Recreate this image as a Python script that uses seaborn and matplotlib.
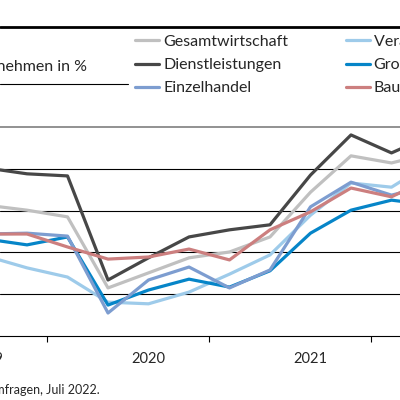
import numpy as np
import pandas as pd
import matplotlib
matplotlib.use("Agg")
import matplotlib.pyplot as plt
from matplotlib.lines import Line2D
import seaborn as sns

# quarter index: 0 = Q4 2019, 1 = Q1 2020, ...
quarters = [-1, 0, 1, 2, 3, 4, 5, 6, 7, 8, 9, 10]

gesamt   = [31.3, 30.1, 28.5, 11.5, 15.1, 18.7, 20.1, 23.7, 34.4, 43.1, 41.4, 43.8]
verarb   = [19.1, 16.3, 14.1, 8.1, 7.7, 10.5, 14.8, 19.4, 28.9, 36.6, 35.6, 41.6]
dienst   = [40.2, 38.8, 38.3, 13.4, 18.7, 23.7, 25.4, 26.6, 38.5, 48.1, 43.8, 48.1]
gross    = [23.2, 21.8, 23.7, 7.4, 11.0, 13.6, 11.7, 15.6, 24.6, 30.1, 32.5, 31.3]
einzel   = [24.4, 24.6, 23.9, 5.5, 13.4, 16.5, 11.5, 15.8, 30.9, 36.8, 33.7, 36.1]
bau      = [24.4, 24.4, 21.3, 18.4, 18.9, 20.8, 18.2, 25.4, 29.7, 35.4, 33.3, 38.0]

series_names = ["Gesamtwirtschaft", "Dienstleistungen", "Einzelhandel",
                "Verarbeitendes Gewerbe", "Großhandel", "Bauhauptgewerbe"]
series_vals = [gesamt, dienst, einzel, verarb, gross, bau]
colors = ["#c0c0c0", "#474747", "#7d9dd0", "#9ecbea", "#0685c8", "#cc7f7f"]

year_labels = ["2019", "2020", "2021"]
year_pos = [-1, 3, 7]
year_bounds = [0.5, 4.5, 8.5]

df = pd.DataFrame({
    "quartal": quarters * len(series_names),
    "wert": sum(series_vals, []),
    "reihe": [n for n in series_names for _ in quarters],
})

sns.set_style("white")
plt.rcParams["font.family"] = ["Lato", "DejaVu Sans"]

fig = plt.figure(figsize=(4, 4), dpi=100)
ax = fig.add_axes([0.0, 0.16, 1.0, 0.5225])

draw_order = ["Gesamtwirtschaft", "Verarbeitendes Gewerbe", "Dienstleistungen",
              "Großhandel", "Einzelhandel", "Bauhauptgewerbe"]
pal = dict(zip(series_names, colors))
sns.lineplot(data=df, x="quartal", y="wert", hue="reihe", hue_order=draw_order,
             palette=pal, linewidth=2.3, legend=False, ax=ax)

ax.set_yticks([10, 20, 30, 40])
ax.yaxis.grid(True, color="black", linewidth=0.8)
ax.xaxis.grid(False)
ax.set_yticklabels([])
ax.tick_params(axis="y", length=0)

ax.set_xticks(year_bounds)
ax.set_xticklabels([])
ax.tick_params(axis="x", which="major", direction="out", length=4.5,
               width=0.8, color="black", bottom=True)
ax.set_xlabel("")
ax.set_ylabel("")
ax.set_xlim(-0.667, 9.21)
ax.set_ylim(0, 50)

for pos, lab in zip(year_pos, year_labels):
    ax.text(pos, -0.11, lab, transform=ax.get_xaxis_transform(), ha="center",
            va="center", fontsize=10.5, clip_on=False)

for s in ["left", "right"]:
    ax.spines[s].set_visible(False)
ax.spines["bottom"].set_color("black")
ax.spines["bottom"].set_linewidth(0.8)
ax.spines["top"].set_color("#7f7f7f")
ax.spines["top"].set_linewidth(1.2)

# header rules and title
fig.add_artist(Line2D([0, 1], [0.932, 0.932], color="black", linewidth=2.0))
fig.add_artist(Line2D([0, 0.32], [0.79, 0.79], color="black", linewidth=0.8))
fig.text(0.218, 0.832, "Anteil der Unternehmen in %", ha="right", va="center",
         fontsize=11.5)

handles = [Line2D([0], [0], color=c, linewidth=2.3) for c in colors]
fig.legend(handles, series_names, loc="upper left", bbox_to_anchor=(0.338, 0.913),
           ncol=2, frameon=False, fontsize=11.5, handlelength=1.5,
           handletextpad=0.25, columnspacing=3.6, labelspacing=0.56,
           borderpad=0, borderaxespad=0)

fig.text(0.25, 0.025, "Quelle: ifo Konjunkturumfragen, Juli 2022.", ha="right",
         va="center", fontsize=9)

fig.savefig("out.png", dpi=100)
